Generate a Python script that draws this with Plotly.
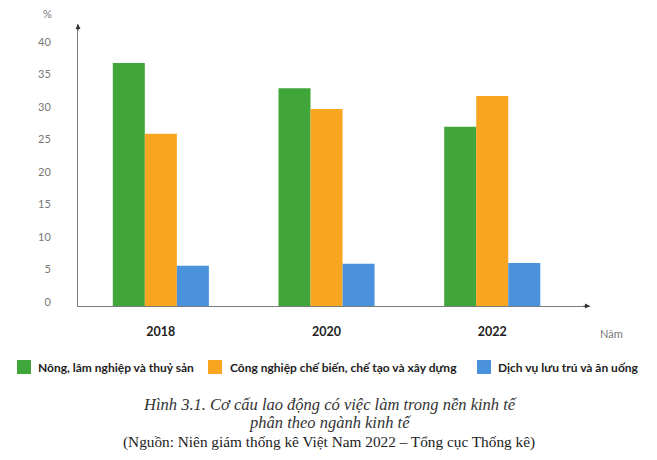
import plotly.graph_objects as go

# Cơ cấu lao động có việc làm phân theo ngành kinh tế (%)
years = ["2018", "2020", "2022"]
nong_nghiep = [37.4, 33.5, 27.6]
cong_nghiep = [26.5, 30.3, 32.3]
dich_vu = [6.2, 6.5, 6.6]

series_names = [
    "Nông, lâm nghiệp và thuỷ sản",
    "Công nghiệp chế biến, chế tạo và xây dựng",
    "Dịch vụ lưu trú và ăn uống",
]
colors = ["#41a63a", "#f8a51f", "#4a93dc"]

# trang html có lề 8px, nên hình nhỏ hơn cửa sổ 8px
W, H = 649, 452
L, R, T, B = 70, 67, 16, 154
PW, PH = W - L - R, H - T - B


def px(x):  # toạ độ điểm ảnh (theo cửa sổ) -> paper
    return (x - 8 - L) / PW


def py(y):
    return (H - B - (y - 8)) / PH


fig = go.Figure()
for name, vals, col in zip(series_names, [nong_nghiep, cong_nghiep, dich_vu], colors):
    fig.add_trace(go.Bar(x=years, y=vals, name=name,
                         marker=dict(color=col, line=dict(width=0))))

axis_col = "#7a7a7a"

fig.update_layout(
    width=W, height=H,
    margin=dict(l=L, r=R, t=T, b=B),
    paper_bgcolor="white", plot_bgcolor="white",
    barmode="group", bargap=0.42, bargroupgap=0,
    font=dict(family="Lato, Noto Sans, sans-serif", color="#333"),
    showlegend=False,
)

fig.update_xaxes(
    range=[-0.5, 2.59], showline=True, linecolor=axis_col, linewidth=1,
    showgrid=False, ticks="", ticklabelstandoff=14,
    tickfont=dict(size=12.5, color="#222", weight="bold", family="Lato"),
)
fig.update_yaxes(
    range=[0, 43.4], showline=True, linecolor=axis_col, linewidth=1,
    showgrid=False, zeroline=False, ticks="", tickvals=list(range(0, 45, 5)),
    ticklabelstandoff=24, ticklabelshift=-4,
    tickfont=dict(size=11, color="#777", family="Lato"),
)

# mũi tên trục
fig.add_annotation(x=1, y=0, xref="paper", yref="paper", ax=-8, ay=0,
                   text="", showarrow=True, arrowhead=2, arrowsize=1,
                   arrowwidth=1, arrowcolor="#333")
fig.add_annotation(x=0, y=1, xref="paper", yref="paper", ax=0, ay=8,
                   text="", showarrow=True, arrowhead=2, arrowsize=1,
                   arrowwidth=1, arrowcolor="#333")

fig.add_annotation(x=px(47), y=py(13), xref="paper", yref="paper",
                   xanchor="center", yanchor="middle",
                   text="%", showarrow=False, font=dict(size=11, color="#777"))
fig.add_annotation(x=px(598), y=py(333), xref="paper", yref="paper",
                   xanchor="left", yanchor="middle",
                   text="Năm", showarrow=False, font=dict(size=11, color="#777"))

# chú giải
leg_sq = [17, 208, 477]
leg_tx = [36, 228, 496]
for name, col, sx, tx in zip(series_names, colors, leg_sq, leg_tx):
    fig.add_shape(type="rect", xref="paper", yref="paper",
                  x0=px(sx), x1=px(sx + 14), y0=py(374), y1=py(360),
                  fillcolor=col, line=dict(width=0))
    fig.add_annotation(x=px(tx), y=py(367), xref="paper", yref="paper",
                       xanchor="left", yanchor="middle", text=name, showarrow=False,
                       font=dict(size=12, family="Lato", color="#222", weight="bold"))

cap_font = dict(family="Liberation Serif, DejaVu Serif, serif", size=16.5, color="#333")
fig.add_annotation(x=px(330), y=py(405), xref="paper", yref="paper", showarrow=False,
                   text="<i>Hình 3.1. Cơ cấu lao động có việc làm trong nền kinh tế</i>",
                   font=cap_font, xanchor="center", yanchor="middle")
fig.add_annotation(x=px(330), y=py(422), xref="paper", yref="paper", showarrow=False,
                   text="<i>phân theo ngành kinh tế</i>",
                   font=cap_font, xanchor="center", yanchor="middle")
fig.add_annotation(x=px(329), y=py(442), xref="paper", yref="paper", showarrow=False,
                   text="(Nguồn: Niên giám thống kê Việt Nam 2022 – Tổng cục Thống kê)",
                   font=dict(family="Liberation Serif, DejaVu Serif, serif", size=15.3, color="#222"),
                   xanchor="center", yanchor="middle")

fig.write_html("out.html")
